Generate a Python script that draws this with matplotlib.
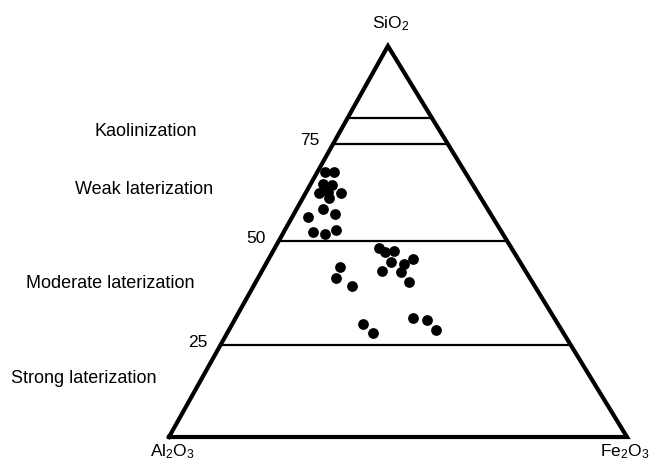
import numpy as np
import matplotlib.pyplot as plt

plt.rcParams['font.family'] = ['Liberation Sans', 'DejaVu Sans']
plt.rcParams['mathtext.fontset'] = 'custom'
plt.rcParams['mathtext.rm'] = 'Liberation Sans'
plt.rcParams['mathtext.default'] = 'regular'

# ── Data (wt% of the SiO2 - Al2O3 - Fe2O3 system) ─────────────────────────────
sio2  = [67.9, 67.9, 64.8, 64.5, 62.5, 62.7, 62.3, 61.1, 63.7, 58.2, 57.0,
         56.2, 52.4, 51.8, 53.0,
         48.3, 47.3, 47.6, 44.7, 44.2, 45.5, 42.5, 42.1, 39.7, 43.4, 40.6,
         38.6, 28.8, 26.7, 30.5, 29.8, 27.4]
fe2o3 = [1.7, 3.6, 2.7, 4.8, 2.9, 4.7, 7.8, 5.8, 4.1, 5.9, 8.9,
         3.5, 6.3, 9.4, 11.2,
         22.8, 24.5, 26.3, 27.0, 30.2, 31.5, 26.3, 30.6, 33.4, 16.5, 17.0,
         21.5, 28.5, 31.8, 38.6, 42.0, 45.2]

boundary_levels = [81.5, 75, 50, 23.5]        # SiO2 % of the horizontal lines
boundary_labels = ["", "75", "50", "25"]
zone_names = ["Kaolinization", "Weak laterization",
              "Moderate laterization", "Strong laterization"]

APEX_X = 0.478   # apex sits a little left of the base centre in the original


def tern_xy(s, f):
    s = np.asarray(s) / 100.0
    f = np.asarray(f) / 100.0
    return f + s * APEX_X, s


W, H = 651, 461
fig = plt.figure(figsize=(W / 100, H / 100), dpi=100)
ax = fig.add_axes([169 / W, 24 / H, 458 / W, 391 / H])
ax.set_xlim(0, 1)
ax.set_ylim(0, 1)
ax.axis("off")

# triangle
ax.plot([0, 1, APEX_X, 0], [0, 0, 1, 0], color="black", lw=3,
        solid_joinstyle="miter", clip_on=False, zorder=3)

# SiO2 boundary lines
for lev, lab in zip(boundary_levels, boundary_labels):
    s = lev / 100.0
    ax.plot([s * APEX_X, 1 + s * (APEX_X - 1)], [s, s], color="black",
            lw=1.6, clip_on=False, zorder=2)
    if lab:
        ax.annotate(lab, xy=(s * APEX_X, s), xytext=(-9.5, 2),
                    textcoords="offset points", ha="right", va="center",
                    fontsize=12.5)

# samples
x, y = tern_xy(sio2, fe2o3)
ax.scatter(x, y, s=60, c="black", linewidths=0, clip_on=False, zorder=4)


def px(xp, yp):
    return xp / W, 1 - yp / H


# vertex labels
fig.text(*px(391, 24), r"SiO$_2$", ha="center", va="center", fontsize=12.5)
fig.text(*px(172, 452), r"Al$_2$O$_3$", ha="center", va="center", fontsize=12.5)
fig.text(*px(625, 452), r"Fe$_2$O$_3$", ha="center", va="center", fontsize=12.5)

# zone names
zone_pos = [(146, 131), (144, 189), (110, 283), (84, 378)]
for name, (xp, yp) in zip(zone_names, zone_pos):
    fig.text(*px(xp, yp), name, ha="center", va="center", fontsize=13)

fig.savefig("out.png", dpi=100)
